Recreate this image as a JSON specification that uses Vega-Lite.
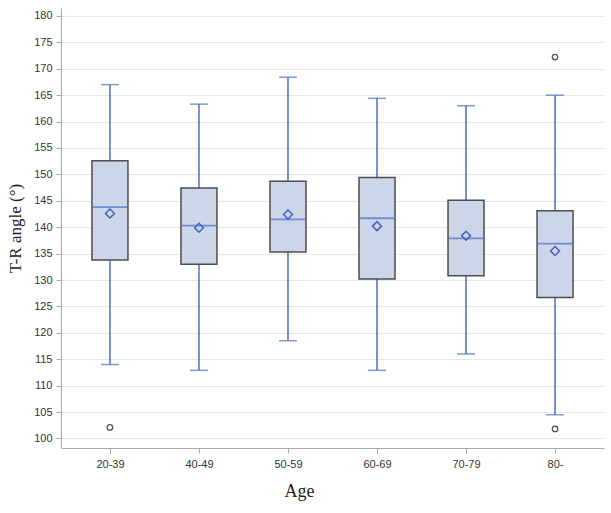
{
  "$schema": "https://vega.github.io/schema/vega-lite/v6.json",
  "autosize": "none",
  "width": 543,
  "height": 440,
  "padding": {"left": 61, "top": 8, "right": 7, "bottom": 65},
  "background": "white",
  "config": {
    "view": {"stroke": null},
    "axis": {"labelFont": "Liberation Sans", "labelFontSize": 11, "labelColor": "#333333", "domainColor": "#a8a8a8", "tickColor": "#a8a8a8", "gridColor": "#e6e6e6"}
  },
  "datasets": {
    "boxes": [
      {"age": "20-39", "lower": 114.0, "q1": 133.8, "median": 143.8, "mean": 142.6, "q3": 152.6, "upper": 167.0},
      {"age": "40-49", "lower": 112.9, "q1": 133.0, "median": 140.3, "mean": 139.9, "q3": 147.4, "upper": 163.3},
      {"age": "50-59", "lower": 118.5, "q1": 135.3, "median": 141.5, "mean": 142.4, "q3": 148.7, "upper": 168.4},
      {"age": "60-69", "lower": 112.9, "q1": 130.2, "median": 141.7, "mean": 140.2, "q3": 149.4, "upper": 164.4},
      {"age": "70-79", "lower": 116.0, "q1": 130.8, "median": 137.9, "mean": 138.4, "q3": 145.1, "upper": 163.0},
      {"age": "80-", "lower": 104.5, "q1": 126.7, "median": 136.9, "mean": 135.5, "q3": 143.1, "upper": 165.0}
    ],
    "outliers": [
      {"age": "20-39", "value": 102.1},
      {"age": "80-", "value": 172.2},
      {"age": "80-", "value": 101.8}
    ]
  },
  "encoding": {
    "x": {
      "field": "age", "type": "nominal",
      "sort": ["20-39", "40-49", "50-59", "60-69", "70-79", "80-"],
      "scale": {"type": "point", "padding": 0.55},
      "axis": {"title": "Age", "titleFont": "Liberation Serif", "titleFontSize": 18, "titleFontWeight": "normal", "titleColor": "#222222", "titleX": 238, "titleY": 48, "titleBaseline": "alphabetic", "labelAngle": 0, "tickSize": 5, "labelPadding": 5, "grid": false}
    }
  },
  "layer": [
    {
      "data": {"name": "boxes"},
      "mark": {"type": "rule", "color": "#4a6fc4", "strokeWidth": 1.5},
      "encoding": {
        "y": {
          "field": "lower", "type": "quantitative",
          "scale": {"domain": [98.2, 181.5], "nice": false, "zero": false},
          "axis": {"title": "T-R angle (°)", "titleFont": "Liberation Serif", "titleFontSize": 17, "titleFontWeight": "normal", "titleColor": "#222222", "titlePadding": 9, "values": [100,105,110,115,120,125,130,135,140,145,150,155,160,165,170,175,180], "labelOverlap": false, "tickSize": 5, "labelPadding": 4, "grid": true}
        },
        "y2": {"field": "upper"}
      }
    },
    {
      "data": {"name": "boxes"},
      "mark": {"type": "tick", "color": "#4a6fc4", "size": 18, "thickness": 1.5},
      "encoding": {"y": {"field": "upper", "type": "quantitative", "axis": {"title": "T-R angle (°)", "values": [100,105,110,115,120,125,130,135,140,145,150,155,160,165,170,175,180], "labelOverlap": false}}}
    },
    {
      "data": {"name": "boxes"},
      "mark": {"type": "tick", "color": "#4a6fc4", "size": 18, "thickness": 1.5},
      "encoding": {"y": {"field": "lower", "type": "quantitative", "axis": {"title": "T-R angle (°)", "values": [100,105,110,115,120,125,130,135,140,145,150,155,160,165,170,175,180], "labelOverlap": false}}}
    },
    {
      "data": {"name": "boxes"},
      "mark": {"type": "bar", "width": 36, "fill": "#cdd6e8", "stroke": "#4d4d4d", "strokeWidth": 1.5},
      "encoding": {"y": {"field": "q1", "type": "quantitative", "axis": {"title": "T-R angle (°)", "values": [100,105,110,115,120,125,130,135,140,145,150,155,160,165,170,175,180], "labelOverlap": false}}, "y2": {"field": "q3"}}
    },
    {
      "data": {"name": "boxes"},
      "mark": {"type": "tick", "color": "#4a6fc4", "size": 35, "thickness": 1.8},
      "encoding": {"y": {"field": "median", "type": "quantitative", "axis": {"title": "T-R angle (°)", "values": [100,105,110,115,120,125,130,135,140,145,150,155,160,165,170,175,180], "labelOverlap": false}}}
    },
    {
      "data": {"name": "boxes"},
      "mark": {"type": "point", "shape": "diamond", "filled": false, "stroke": "#3f64bd", "strokeWidth": 1.5, "size": 80, "opacity": 1},
      "encoding": {"y": {"field": "mean", "type": "quantitative", "axis": {"title": "T-R angle (°)", "values": [100,105,110,115,120,125,130,135,140,145,150,155,160,165,170,175,180], "labelOverlap": false}}}
    },
    {
      "data": {"name": "outliers"},
      "mark": {"type": "point", "shape": "circle", "filled": false, "stroke": "#555555", "strokeWidth": 1.3, "size": 30, "opacity": 1},
      "encoding": {"y": {"field": "value", "type": "quantitative", "axis": {"title": "T-R angle (°)", "values": [100,105,110,115,120,125,130,135,140,145,150,155,160,165,170,175,180], "labelOverlap": false}}}
    }
  ]
}
